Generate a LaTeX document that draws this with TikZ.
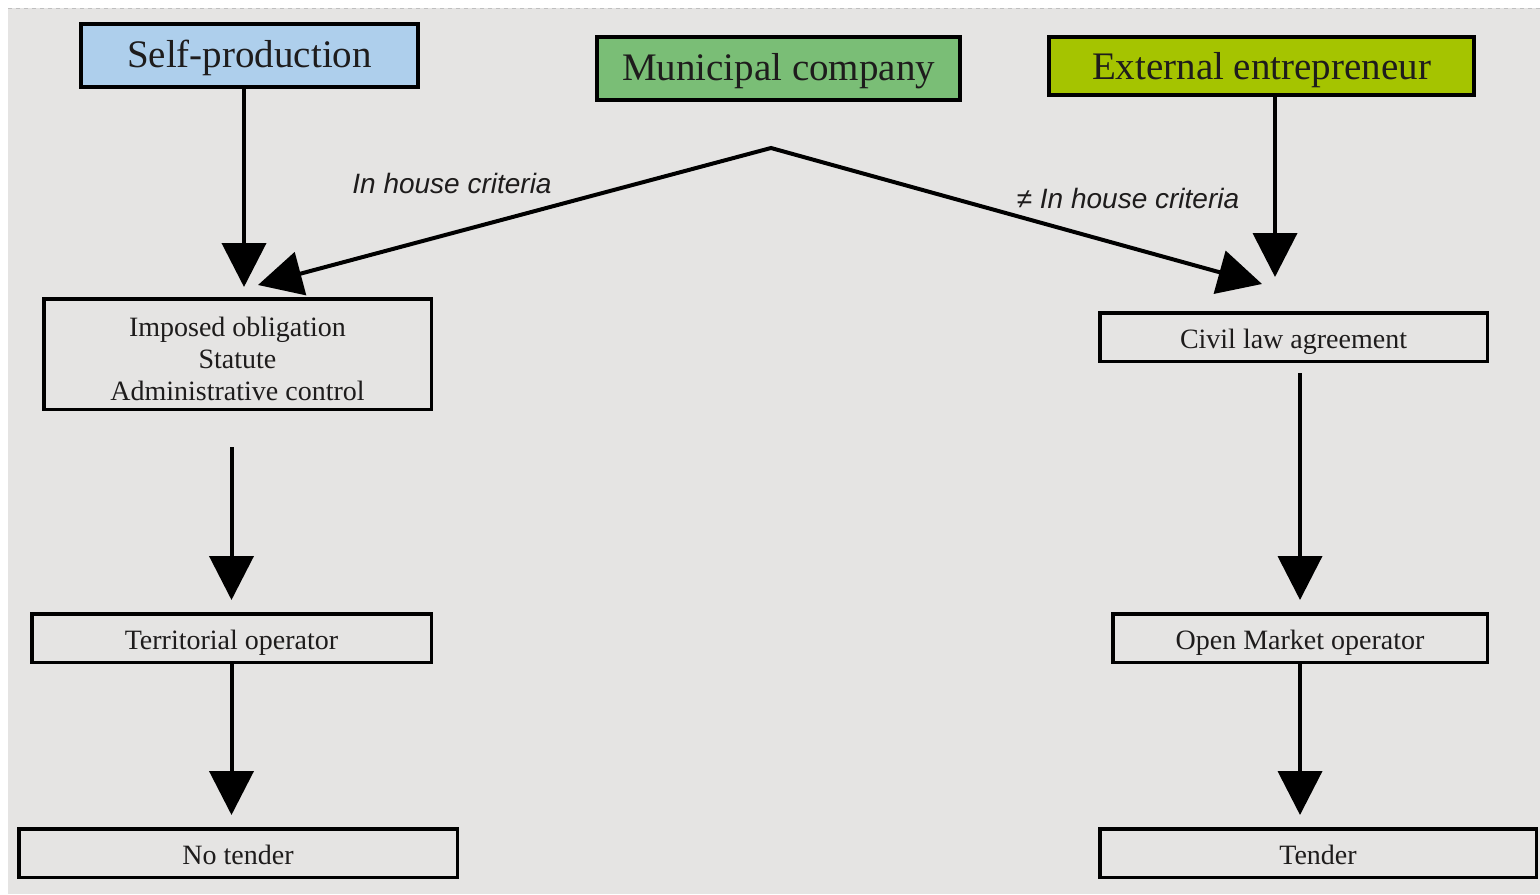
\documentclass[tikz,border=0pt]{standalone}
\usepackage{fontspec}
\setmainfont{Liberation Serif}
\newfontfamily\labelfont{Liberation Sans}
\usetikzlibrary{arrows.meta}
\definecolor{bg}{RGB}{229,228,227}
\definecolor{sblue}{RGB}{174,207,236}
\definecolor{mgreen}{RGB}{122,190,118}
\definecolor{eyellow}{RGB}{165,196,0}
\definecolor{ink}{RGB}{30,28,28}
\tikzset{
  topbox/.style={draw=black, line width=2pt, inner sep=0pt, text=ink, text depth=0pt, font=\fontsize{19.5}{22}\selectfont},
  flowbox/.style={draw=black, line width=1.75pt, inner sep=0pt, text=ink, align=center, font=\fontsize{14}{16}\selectfont},
  onebox/.style={flowbox, text height=11pt, text depth=0pt},
  arr/.style={line width=2pt, -{Triangle[length=22pt,width=22pt]}},
  lbl/.style={text=ink, font=\labelfont\itshape\fontsize{14}{16}\selectfont, inner sep=0pt}
}
\begin{document}
\begin{tikzpicture}[x=0.5pt,y=-0.5pt]
\useasboundingbox (0,0) rectangle (1540,894);
\fill[white] (0,0) rectangle (1540,894);
\fill[bg] (8,8) rectangle (1540,894);
\draw[black!25, line width=0.6pt, dash pattern=on 2pt off 2pt] (8,8.5) -- (1540,8.5);

% top boxes
\node[topbox, fill=sblue, text height=11.5pt, minimum width=168.5pt, minimum height=31.5pt] (selfp) at (249.5,55.5) {Self-production};
\node[topbox, fill=mgreen, text height=12pt, minimum width=181.5pt, minimum height=31.5pt] (muni) at (778.5,68.5) {Municipal company};
\node[topbox, fill=eyellow, text height=13.5pt, minimum width=212.5pt, minimum height=29pt] (ext) at (1261.5,66) {External entrepreneur};

% second row
\node[flowbox, minimum width=193.75pt, minimum height=55.25pt] (imposed) at (237.5,354) {\rule{0pt}{14.5pt}Imposed obligation\\Statute\\Administrative control};
\node[onebox, minimum width=193.75pt, minimum height=24.25pt] (civil) at (1293.5,337) {Civil law agreement};

% third row
\node[onebox, minimum width=199.75pt, minimum height=24.25pt] (terr) at (231.5,638) {Territorial operator};
\node[onebox, minimum width=187.25pt, minimum height=24.25pt] (open) at (1300,638) {Open Market operator};

% bottom row
\node[onebox, minimum width=219.25pt, minimum height=24.25pt] (notender) at (238,853) {No tender};
\node[onebox, minimum width=218.25pt, minimum height=24.25pt] (tender) at (1318,853) {Tender};

% coordinates
\coordinate (apex) at (771,148);
\coordinate (ltip) at (258,285);
\coordinate (rtip) at (1262,284);
\coordinate (stip) at (244,287);
\coordinate (etip) at (1275,277);

% arrows
\draw[arr] (selfp.south -| stip) -- (stip);
\draw[line width=2pt, line join=miter, {Triangle[length=22pt,width=22pt]}-{Triangle[length=22pt,width=22pt]}] (ltip) -- (apex) -- (rtip);
\draw[arr] (ext.south -| etip) -- (etip);
\draw[arr, shorten <=18pt, shorten >=6pt] (imposed.south -| terr.north) -- (terr.north);
\draw[arr, shorten <=5pt, shorten >=6pt] (civil.south -| open.north) -- (open.north);
\draw[arr, shorten >=6pt] (terr.south) -- (terr.south |- notender.north);
\draw[arr, shorten >=6pt] (open.south) -- (open.south |- tender.north);

% labels
\node[lbl] (l1) at (452,183) {In house criteria};
\node[lbl] (l2) at (1128,198) {≠ In house criteria};
\end{tikzpicture}
\end{document}
